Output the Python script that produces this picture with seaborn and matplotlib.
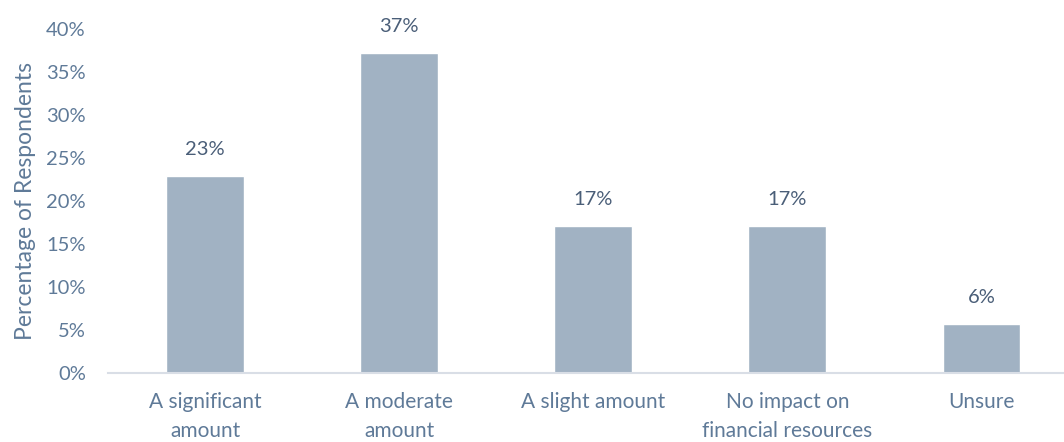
import matplotlib
matplotlib.use("Agg")
import matplotlib.pyplot as plt
import seaborn as sns
import pandas as pd

categories = ["A significant\namount", "A moderate\namount", "A slight amount",
              "No impact on\nfinancial resources", "Unsure"]
values = [22.9, 37.2, 17.1, 17.1, 5.7]
labels = ["23%", "37%", "17%", "17%", "6%"]
yticks = [0, 5, 10, 15, 20, 25, 30, 35, 40]

sns.set_theme(style="white")
plt.rcParams['font.family'] = ['Lato', 'DejaVu Sans']

tick_color = "#5F7A98"
label_color = "#4A5E78"
bar_color = "#A1B2C3"

df = pd.DataFrame({"cat": categories, "val": values})
fig = plt.figure(figsize=(10.64, 4.42), dpi=100)
ax = fig.add_axes([0.1015, 0.156, 0.912, 0.778])
sns.barplot(data=df, x="cat", y="val", color=bar_color, width=0.4,
            saturation=1, ax=ax)
ax.set_ylim(0, 40)
ax.set_yticks(yticks)
ax.set_yticklabels([f"{t}%" for t in yticks])
ax.set_xlabel("")
ax.set_ylabel("Percentage of Respondents", color=tick_color, fontsize=16.5, labelpad=7)
ax.tick_params(axis="y", colors=tick_color, labelsize=14.5, length=0, pad=16)
ax.tick_params(axis="x", colors=tick_color, labelsize=15, length=0, pad=14)
for t in ax.get_xticklabels():
    t.set_linespacing(1.55)
for s in ["top", "right", "left"]:
    ax.spines[s].set_visible(False)
ax.spines["bottom"].set_color("#D9DEE6")
ax.spines["bottom"].set_linewidth(1.5)
for i, (v, l) in enumerate(zip(values, labels)):
    ax.annotate(l, (i, v), xytext=(0, 13), textcoords="offset points",
                ha="center", va="bottom", color=label_color, fontsize=14.5)
fig.savefig("out.png", dpi=100)
